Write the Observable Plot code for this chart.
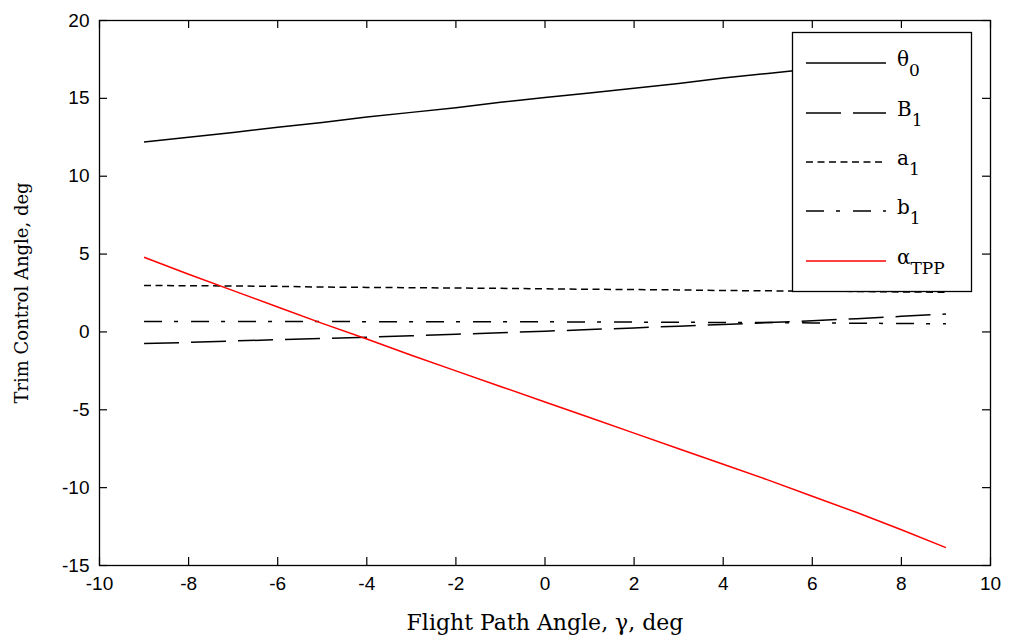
<!DOCTYPE html>
<html>
<head>
<meta charset="utf-8">
<script src="https://cdn.jsdelivr.net/npm/d3@7"></script>
<script src="https://cdn.jsdelivr.net/npm/@observablehq/plot@0.6"></script>
<style>
  body { margin: 0; background: #fff; }
  #wrap { position: relative; width: 1010px; height: 643px; }
  #legend { position: absolute; left: 0; top: 0; }
</style>
</head>
<body>
<div id="wrap"></div>
<script>
// Flight path angle, deg
const gamma = [-9,-8,-7,-6,-5,-4,-3,-2,-1,0,1,2,3,4,5,6,7,8,9];
// Trim control angles, deg
const theta0 = [12.2,12.5,12.8,13.15,13.45,13.8,14.1,14.4,14.75,15.05,15.35,15.65,15.95,16.3,16.6,16.9,17.2,17.5,17.8];
const B1     = [-0.75,-0.67,-0.58,-0.5,-0.42,-0.34,-0.25,-0.15,-0.05,0.05,0.15,0.26,0.37,0.48,0.6,0.72,0.85,1.0,1.15];
const a1     = [2.98,2.97,2.95,2.93,2.88,2.86,2.84,2.82,2.8,2.77,2.74,2.72,2.7,2.66,2.64,2.62,2.6,2.57,2.55];
const b1     = [0.67,0.67,0.67,0.67,0.67,0.66,0.66,0.66,0.65,0.65,0.64,0.63,0.62,0.61,0.6,0.58,0.56,0.54,0.52];
const alphaTPP = [4.8,3.7,2.65,1.6,0.55,-0.45,-1.5,-2.5,-3.5,-4.5,-5.5,-6.5,-7.5,-8.5,-9.5,-10.55,-11.6,-12.7,-13.85];

const xTicks = [-10,-8,-6,-4,-2,0,2,4,6,8,10];
const yTicks = [-15,-10,-5,0,5,10,15,20];
const xLabel = "Flight Path Angle, γ, deg";
const yLabel = "Trim Control Angle, deg";

const seriesNames = ["θ0","B1","a1","b1","αTPP"];
const seriesMain = ["θ","B","a","b","α"];
const seriesSub = ["0","1","1","1","TPP"];
const seriesValues = [theta0, B1, a1, b1, alphaTPP];
const seriesColor = ["#000","#000","#000","#000","#ff0000"];
const seriesDash = [null, "35,12", "7,4.5", "18,12,4,13", null];

const W = 1010, H = 643;
const mL = 99, mR = 20, mT = 20, mB = 78;
const pw = W - mL - mR, ph = H - mT - mB;
const tk = 8;

const rows = [];
seriesValues.forEach((vals, i) => vals.forEach((v, j) => rows.push({s: i, x: gamma[j], y: v})));

const lineMarks = seriesValues.map((vals, i) =>
  Plot.line(rows.filter(r => r.s === i), {
    x: "x", y: "y", stroke: seriesColor[i], strokeWidth: 1.5,
    strokeDasharray: seriesDash[i] || undefined, strokeLinecap: "butt"
  })
);

const sans = "'Liberation Sans', Arial, sans-serif";
const serif = "'DejaVu Serif', serif";

const chart = Plot.plot({
  width: W, height: H,
  marginLeft: mL, marginRight: mR, marginTop: mT, marginBottom: mB,
  style: {fontFamily: sans, color: "#000", background: "#fff"},
  x: {domain: [-10, 10], axis: null},
  y: {domain: [-15, 20], axis: null},
  marks: [
    ...lineMarks,
    // inward ticks on all four sides
    Plot.tickX(xTicks, {x: d => d, insetTop: ph - tk, stroke: "#000", strokeWidth: 1.2}),
    Plot.tickX(xTicks, {x: d => d, insetBottom: ph - tk, stroke: "#000", strokeWidth: 1.2}),
    Plot.tickY(yTicks, {y: d => d, insetRight: pw - tk, stroke: "#000", strokeWidth: 1.2}),
    Plot.tickY(yTicks, {y: d => d, insetLeft: pw - tk, stroke: "#000", strokeWidth: 1.2}),
    // tick labels
    Plot.text(xTicks, {x: d => d, frameAnchor: "bottom", dy: 18, lineAnchor: "middle",
      text: d => String(d), fontFamily: sans, fontSize: 19, fill: "#000"}),
    Plot.text(yTicks, {y: d => d, frameAnchor: "left", dx: -10, textAnchor: "end", lineAnchor: "middle",
      text: d => String(d), fontFamily: sans, fontSize: 19, fill: "#000"}),
    Plot.frame({stroke: "#000", strokeWidth: 1.3}),
    Plot.text([xLabel], {frameAnchor: "bottom", dy: 57, lineAnchor: "middle", textAnchor: "middle",
      fontFamily: serif, fontSize: 22, fill: "#000"}),
    Plot.text([yLabel], {frameAnchor: "left", dx: -77, rotate: -90, lineAnchor: "middle", textAnchor: "middle",
      fontFamily: serif, fontSize: 18, fill: "#000"})
  ]
});
document.getElementById("wrap").appendChild(chart);

// Legend box (inside the axes, upper right)
const ns = "http://www.w3.org/2000/svg";
const lg = document.createElementNS(ns, "svg");
lg.setAttribute("id", "legend");
lg.setAttribute("width", W);
lg.setAttribute("height", H);
const box = document.createElementNS(ns, "rect");
box.setAttribute("x", 792.5); box.setAttribute("y", 32.5);
box.setAttribute("width", 179); box.setAttribute("height", 259);
box.setAttribute("fill", "#fff"); box.setAttribute("stroke", "#000"); box.setAttribute("stroke-width", 1.3);
lg.appendChild(box);
const entryY = [63, 113, 162, 211, 261];
seriesNames.forEach((n, i) => {
  const ln = document.createElementNS(ns, "line");
  ln.setAttribute("x1", 806); ln.setAttribute("x2", 886);
  ln.setAttribute("y1", entryY[i]); ln.setAttribute("y2", entryY[i]);
  ln.setAttribute("stroke", seriesColor[i]); ln.setAttribute("stroke-width", 1.5);
  if (seriesDash[i]) ln.setAttribute("stroke-dasharray", seriesDash[i]);
  lg.appendChild(ln);
  const t = document.createElementNS(ns, "text");
  t.setAttribute("x", 897); t.setAttribute("y", entryY[i] + 3);
  t.setAttribute("font-family", serif);
  t.setAttribute("font-size", 20);
  t.textContent = seriesMain[i];
  const sub = document.createElementNS(ns, "tspan");
  sub.setAttribute("dy", 10);
  sub.setAttribute("font-size", 17);
  sub.textContent = seriesSub[i];
  t.appendChild(sub);
  lg.appendChild(t);
});
document.getElementById("wrap").appendChild(lg);
</script>
</body>
</html>
